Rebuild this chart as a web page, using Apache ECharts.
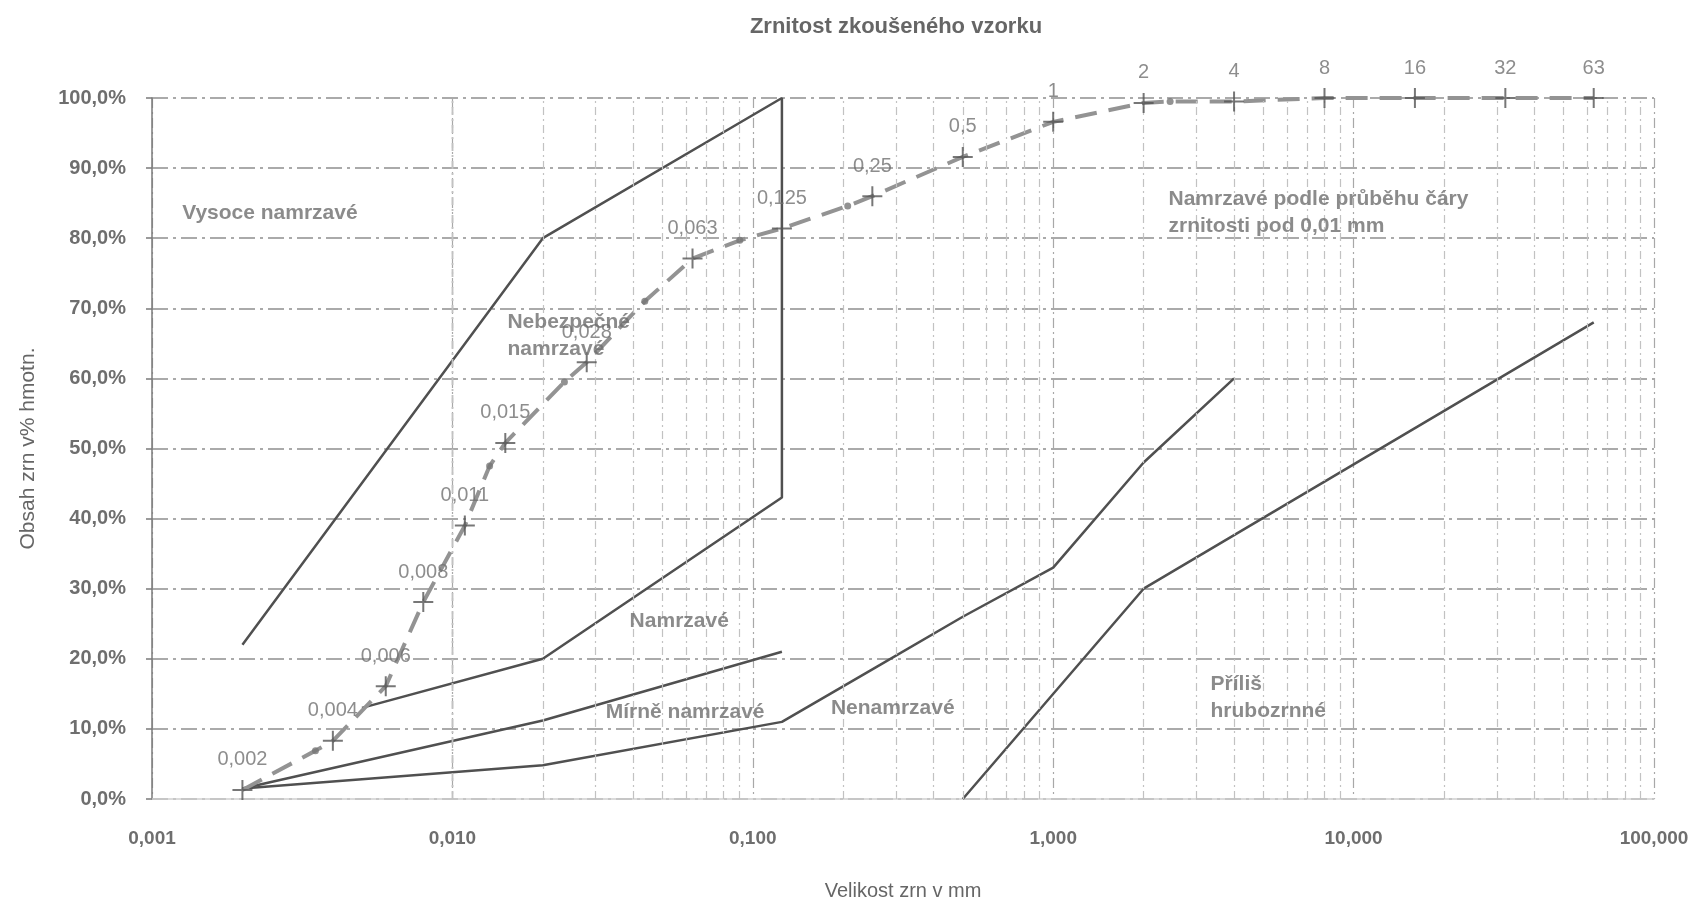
<!DOCTYPE html>
<html>
<head>
<meta charset="utf-8">
<script src="https://cdn.jsdelivr.net/npm/echarts@6/dist/echarts.min.js"></script>
<style>
html,body{margin:0;padding:0;background:#fff;}
#chart{width:1693px;height:906px;}
</style>
</head>
<body>
<div id="chart"></div>
<script>
// ---- data ----
const xTickValues = [0.001, 0.01, 0.1, 1, 10, 100];
const minorGridX = [0.002,0.003,0.004,0.005,0.006,0.007,0.008,0.009,
  0.02,0.03,0.04,0.05,0.06,0.07,0.08,0.09,
  0.2,0.3,0.4,0.5,0.6,0.7,0.8,0.9,
  2,3,4,5,6,7,8,9,
  20,30,40,50,60,70,80,90];

// boundary lines (grain size mm, % passing)
const highlyX = [0.002, 0.02, 0.125, 0.125, 0.02, 0.005];
const highlyY = [22, 80, 100, 43, 20, 13];
const mildX = [0.002, 0.02, 0.125];
const mildY = [1.5, 11.2, 21];
const nonX = [0.002, 0.02, 0.125, 0.25, 0.5, 1, 2, 4];
const nonY = [1.5, 4.8, 11, 18.5, 26, 33, 48, 60];
const coarseX = [0.5, 2, 63];
const coarseY = [0, 30, 68];

// tested sample
const sampleSize = [0.002, 0.004, 0.006, 0.008, 0.011, 0.015, 0.028, 0.063, 0.125, 0.25, 0.5, 1, 2, 4, 8, 16, 32, 63];
const samplePass = [1.3, 8.3, 16.1, 28.1, 39, 50.8, 62.3, 77.1, 81.4, 86, 91.6, 96.6, 99.3, 99.5, 100, 100, 100, 100];
const sampleLabels = ['0,002','0,004','0,006','0,008','0,011','0,015','0,028','0,063','0,125','0,25','0,5','1','2','4','8','16','32','63'];
const dotSize = [0.0035, 0.0133, 0.0236, 0.0437, 0.0905, 0.207, 2.45];
const dotPass = [6.9, 47.5, 59.5, 71, 79.7, 84.6, 99.5];

// zone captions (anchor: left edge, vertical middle)
const zoneText = ['Vysoce namrzavé', 'Nebezpečné\nnamrzavé', 'Namrzavé', 'Mírně namrzavé', 'Nenamrzavé', 'Příliš\nhrubozrnné', 'Namrzavé podle průběhu čáry\nzrnitosti pod 0,01 mm'];
const zoneX = [0.00126, 0.01525, 0.0389, 0.0324, 0.182, 3.34, 2.42];
const zoneY = [83.5, 66.1, 25.3, 12.4, 12.9, 14.4, 83.7];

const titleText = 'Zrnitost zkoušeného vzorku';
const xName = 'Velikost zrn v mm';
const yName = 'Obsah zrn v% hmotn.';

// ---- build ----
const pairs = (xs, ys) => xs.map((x, i) => [x, ys[i]]);
const FONT = 'Liberation Sans, Arial, sans-serif';
const TXT = '#6e6e6e';
const LINE = '#505050';

const combined = sampleSize.map((x, i) => [x, samplePass[i]])
  .concat(dotSize.map((x, i) => [x, dotPass[i]]))
  .sort((a, b) => a[0] - b[0]);

const boundaryStyle = {color: LINE, width: 2.5};
const boundary = (name, xs, ys) => ({
  name, type: 'line', data: pairs(xs, ys), symbol: 'none', silent: true,
  lineStyle: boundaryStyle, z: 3, animation: false
});

const plusPath = 'path://M9,0h2v9h9v2h-9v9h-2v-9h-9v-2h9z';

const chart = echarts.init(document.getElementById('chart'));
chart.setOption({
  animation: false,
  backgroundColor: '#fff',
  grid: {left: 152, right: 39, top: 98, bottom: 99},
  graphic: [{
    type: 'text', x: 896, y: 27,
    style: {text: titleText, font: 'bold 22px ' + FONT, fill: '#666', textAlign: 'center', textVerticalAlign: 'middle'}
  }],
  xAxis: {
    type: 'log', logBase: 10, min: 0.001, max: 100,
    name: xName, nameLocation: 'middle', nameGap: 82,
    nameTextStyle: {fontFamily: FONT, fontSize: 20, color: '#666'},
    axisLine: {show: true, lineStyle: {color: '#d0d0d0', width: 1.5}},
    axisTick: {show: false},
    axisLabel: {
      margin: 30, fontFamily: FONT, fontSize: 19, fontWeight: 'bold', color: TXT,
      formatter: v => Number(v).toFixed(3).replace('.', ',')
    },
    splitLine: {show: true, lineStyle: {color: '#a8a8a8', width: 1.2, type: [10, 4, 2, 4]}}
  },
  yAxis: {
    type: 'value', min: 0, max: 100, interval: 10,
    name: yName, nameLocation: 'middle', nameGap: 113, nameRotate: 90,
    nameTextStyle: {fontFamily: FONT, fontSize: 21, color: '#666'},
    axisLine: {show: true, lineStyle: {color: '#7a7a7a', width: 1.5}},
    axisTick: {show: true, length: 6, lineStyle: {color: '#7a7a7a', width: 1.5}},
    axisLabel: {
      margin: 26, fontFamily: FONT, fontSize: 20, fontWeight: 'bold', color: TXT,
      formatter: v => v.toFixed(1).replace('.', ',') + '%'
    },
    splitLine: {show: true, lineStyle: {color: '#8f8f8f', width: 1.5, type: [16, 5, 3, 5]}}
  },
  series: [
    {
      name: 'grid', type: 'line', data: [], silent: true, z: 1,
      markLine: {
        silent: true, symbol: 'none', label: {show: false}, animation: false,
        lineStyle: {color: '#c2c2c2', width: 1.2, type: [8, 4, 2, 4]},
        emphasis: {disabled: true},
        data: minorGridX.map(v => ({xAxis: v}))
      }
    },
    boundary('highly', highlyX, highlyY),
    boundary('mild', mildX, mildY),
    boundary('non', nonX, nonY),
    boundary('coarse', coarseX, coarseY),
    {
      name: 'sampleLine', type: 'line', data: combined, symbol: 'none', silent: true, z: 4,
      lineStyle: {color: '#939393', width: 4, type: [22, 12]}
    },
    {
      name: 'dots', type: 'scatter', data: pairs(dotSize, dotPass), symbol: 'circle', symbolSize: 7,
      itemStyle: {color: '#777'}, silent: true, z: 5
    },
    {
      name: 'sample', type: 'scatter', data: pairs(sampleSize, samplePass),
      symbol: plusPath, symbolSize: 20, silent: true, z: 6,
      itemStyle: {color: '#555'},
      label: {
        show: true, position: 'top', distance: 10,
        fontFamily: FONT, fontSize: 20, color: '#707070',
        formatter: p => sampleLabels[p.dataIndex]
      }
    },
    {
      name: 'zones', type: 'scatter', data: pairs(zoneX, zoneY), symbolSize: 0, silent: true, z: 7,
      label: {
        show: true, position: 'right', distance: 0,
        fontFamily: FONT, fontSize: 21, fontWeight: 'bold', color: TXT, lineHeight: 27, align: 'left',
        formatter: p => zoneText[p.dataIndex]
      }
    }
  ]
});
</script>
</body>
</html>
